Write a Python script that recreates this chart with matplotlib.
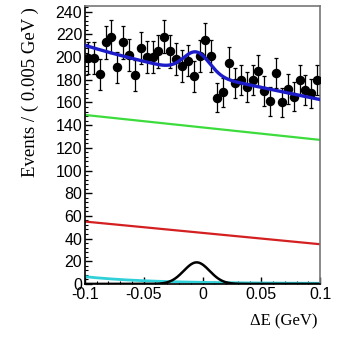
import numpy as np
import matplotlib
matplotlib.use('Agg')
import matplotlib.pyplot as plt
from matplotlib.ticker import MultipleLocator, FixedLocator

# Data: events per 0.005 GeV bin of Delta E
bin_centers = np.arange(-0.0975, 0.1, 0.005)
counts = [199, 199, 185, 213, 218, 191, 213, 202, 184, 208,
          200, 200, 205, 218, 205, 198, 192, 197, 183, 201,
          215, 201, 164, 169, 195, 177, 180, 174, 180, 188,
          170, 161, 186, 160, 172, 165, 180, 171, 168, 180]

# Fit components
green_ends = [149, 127]     # linear background at x=-0.1 and x=0.1
red_ends = [55, 35]         # second linear background
signal_amp, signal_mean, signal_sigma = 19, -0.005, 0.011
cyan_const, cyan_amp, cyan_decay = 0.4, 6.0, 0.055

xticks = [-0.1, -0.05, 0, 0.05, 0.1]
xtick_labels = ['-0.1', '-0.05', '0', '0.05', '0.1']

x = np.linspace(-0.1, 0.1, 400)
green = np.interp(x, [-0.1, 0.1], green_ends)
red = np.interp(x, [-0.1, 0.1], red_ends)
signal = signal_amp * np.exp(-0.5 * ((x - signal_mean) / signal_sigma) ** 2)
cyan = cyan_const + cyan_amp * np.exp(-(x + 0.1) / cyan_decay)
total = green + red + signal + cyan

fig = plt.figure(figsize=(3.37, 3.38), dpi=100)
ax = fig.add_axes([0.252, 0.16, 0.698, 0.822])

ax.plot(x, green, color='#3ddc3d', lw=1.6)
ax.plot(x, red, color='#d42020', lw=1.6)
ax.plot(x, cyan, color='#30d0d8', lw=2.0)
ax.plot(x, signal, color='black', lw=1.8)
ax.errorbar(bin_centers, counts, yerr=np.sqrt(counts), fmt='o', color='black',
            ms=5.8, elinewidth=0.9, capsize=1.5, capthick=0.9, zorder=3)
ax.plot(x, total, color='#1c1cc8', lw=2.4, zorder=4)

ax.set_xlim(-0.1, 0.1)
ax.set_ylim(0, 245)
ax.xaxis.set_major_locator(FixedLocator(xticks))
ax.set_xticklabels(xtick_labels)
ax.xaxis.set_minor_locator(MultipleLocator(0.01))
ax.yaxis.set_major_locator(MultipleLocator(20))
ax.yaxis.set_minor_locator(MultipleLocator(4))
ax.tick_params(which='both', direction='in', top=False, right=False,
               labelsize=11.5, pad=2)
ax.tick_params(which='major', length=5, width=1)
ax.tick_params(which='minor', length=2.5, width=0.8)
for lab in ax.get_xticklabels() + ax.get_yticklabels():
    lab.set_fontfamily('Liberation Sans')
for s in ax.spines.values():
    s.set_linewidth(1.2)
ax.spines['top'].set_color('#777777')
ax.spines['right'].set_color('#777777')

fig.text(30 / 337, 1 - 7 / 338, 'Events / ( 0.005 GeV )', rotation=90,
         ha='center', va='top', fontsize=13.5, family='Liberation Serif')
fig.text(318 / 337, 1 - 321 / 338, 'ΔE (GeV)', ha='right', va='center',
         fontsize=12, family='Liberation Serif')

fig.savefig('out.png', dpi=100)
